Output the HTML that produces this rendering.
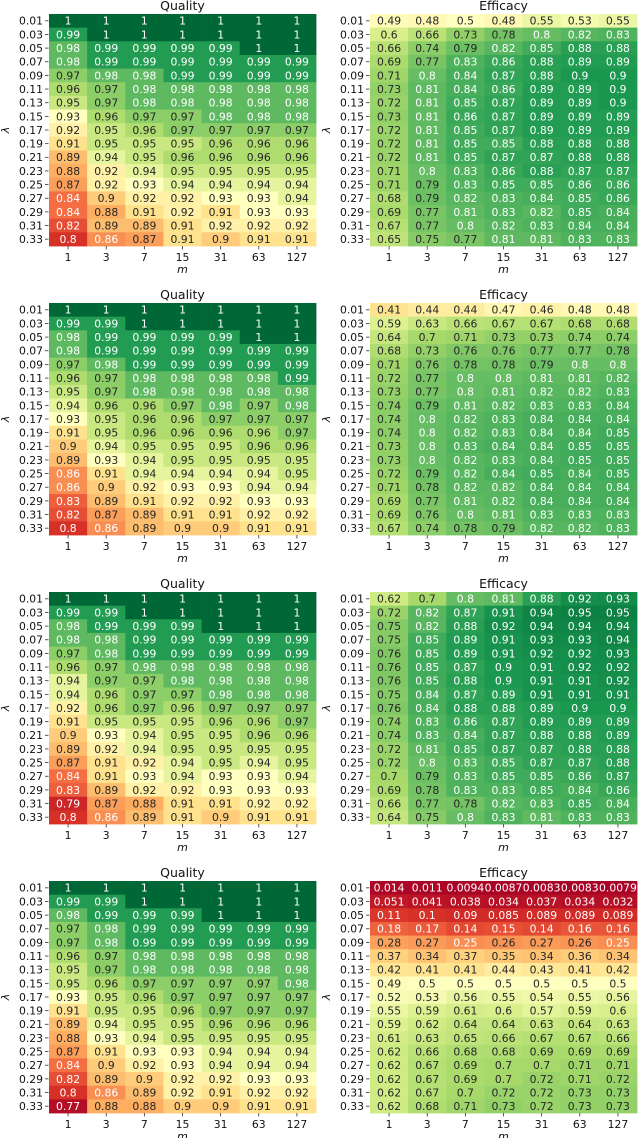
<!DOCTYPE html>
<html><head><meta charset="utf-8"><style>
html,body{margin:0;padding:0;background:#fff;}
svg{display:block;font-family:"DejaVu Sans","Liberation Sans",sans-serif;}
</style></head><body>
<svg id="fig" width="640" height="1138" viewBox="0 0 640 1138" xmlns="http://www.w3.org/2000/svg"></svg>
<script>
const mLabels=['1','3','7','15','31','63','127'];
const lambdaLabels=['0.01','0.03','0.05','0.07','0.09','0.11','0.13','0.15','0.17','0.19','0.21','0.23','0.25','0.27','0.29','0.31','0.33'];
const quality1=[[1,1,1,1,1,1,1],[0.99,1,1,1,1,1,1],[0.98,0.99,0.99,0.99,0.99,1,1],[0.98,0.99,0.99,0.99,0.99,0.99,0.99],[0.97,0.98,0.98,0.99,0.99,0.99,0.99],[0.96,0.97,0.98,0.98,0.98,0.98,0.98],[0.95,0.97,0.98,0.98,0.98,0.98,0.98],[0.93,0.96,0.97,0.97,0.98,0.98,0.98],[0.92,0.95,0.96,0.97,0.97,0.97,0.97],[0.91,0.95,0.95,0.95,0.96,0.96,0.96],[0.89,0.94,0.95,0.96,0.96,0.96,0.96],[0.88,0.92,0.94,0.95,0.95,0.95,0.95],[0.87,0.92,0.93,0.94,0.94,0.94,0.94],[0.84,0.9,0.92,0.92,0.93,0.93,0.94],[0.84,0.88,0.91,0.92,0.91,0.93,0.93],[0.82,0.89,0.89,0.91,0.92,0.92,0.92],[0.8,0.86,0.87,0.91,0.9,0.91,0.91]];
const efficacy1=[[0.49,0.48,0.5,0.48,0.55,0.53,0.55],[0.6,0.66,0.73,0.78,0.8,0.82,0.83],[0.66,0.74,0.79,0.82,0.85,0.88,0.88],[0.69,0.77,0.83,0.86,0.88,0.89,0.89],[0.71,0.8,0.84,0.87,0.88,0.9,0.9],[0.73,0.81,0.84,0.86,0.89,0.89,0.9],[0.72,0.81,0.85,0.87,0.89,0.89,0.9],[0.73,0.81,0.86,0.87,0.89,0.89,0.89],[0.72,0.81,0.85,0.87,0.89,0.89,0.89],[0.72,0.81,0.85,0.85,0.88,0.88,0.88],[0.72,0.81,0.85,0.87,0.87,0.88,0.88],[0.71,0.8,0.83,0.86,0.88,0.87,0.87],[0.71,0.79,0.83,0.85,0.85,0.86,0.86],[0.68,0.79,0.82,0.83,0.84,0.85,0.86],[0.69,0.77,0.81,0.83,0.82,0.85,0.84],[0.67,0.77,0.8,0.82,0.83,0.84,0.84],[0.65,0.75,0.77,0.81,0.81,0.83,0.83]];
const quality2=[[1,1,1,1,1,1,1],[0.99,0.99,1,1,1,1,1],[0.98,0.99,0.99,0.99,0.99,1,1],[0.98,0.99,0.99,0.99,0.99,0.99,0.99],[0.97,0.98,0.99,0.99,0.99,0.99,0.99],[0.96,0.97,0.98,0.98,0.98,0.98,0.99],[0.95,0.97,0.98,0.98,0.98,0.98,0.98],[0.94,0.96,0.96,0.97,0.98,0.97,0.98],[0.93,0.95,0.96,0.96,0.97,0.97,0.97],[0.91,0.95,0.96,0.96,0.96,0.96,0.97],[0.9,0.94,0.95,0.95,0.95,0.96,0.96],[0.89,0.93,0.94,0.95,0.95,0.95,0.95],[0.86,0.91,0.94,0.94,0.94,0.94,0.95],[0.86,0.9,0.92,0.93,0.93,0.94,0.94],[0.83,0.89,0.91,0.92,0.92,0.93,0.93],[0.82,0.87,0.89,0.91,0.91,0.92,0.92],[0.8,0.86,0.89,0.9,0.9,0.91,0.91]];
const efficacy2=[[0.41,0.44,0.44,0.47,0.46,0.48,0.48],[0.59,0.63,0.66,0.67,0.67,0.68,0.68],[0.64,0.7,0.71,0.73,0.73,0.74,0.74],[0.68,0.73,0.76,0.76,0.77,0.77,0.78],[0.71,0.76,0.78,0.78,0.79,0.8,0.8],[0.72,0.77,0.8,0.8,0.81,0.81,0.82],[0.73,0.77,0.8,0.81,0.82,0.82,0.83],[0.74,0.79,0.81,0.82,0.83,0.83,0.84],[0.74,0.8,0.82,0.83,0.84,0.84,0.84],[0.74,0.8,0.82,0.83,0.84,0.84,0.85],[0.73,0.8,0.83,0.84,0.84,0.85,0.85],[0.73,0.8,0.82,0.83,0.84,0.85,0.85],[0.72,0.79,0.82,0.84,0.85,0.84,0.85],[0.71,0.78,0.82,0.82,0.84,0.84,0.84],[0.69,0.77,0.81,0.82,0.84,0.84,0.84],[0.69,0.76,0.8,0.81,0.83,0.83,0.83],[0.67,0.74,0.78,0.79,0.82,0.82,0.83]];
const quality3=[[1,1,1,1,1,1,1],[0.99,0.99,1,1,1,1,1],[0.98,0.99,0.99,0.99,1,1,1],[0.98,0.98,0.99,0.99,0.99,0.99,0.99],[0.97,0.98,0.99,0.99,0.99,0.99,0.99],[0.96,0.97,0.98,0.98,0.98,0.98,0.98],[0.94,0.97,0.97,0.98,0.98,0.98,0.98],[0.94,0.96,0.97,0.97,0.98,0.98,0.98],[0.92,0.96,0.97,0.96,0.97,0.97,0.97],[0.91,0.95,0.95,0.95,0.96,0.96,0.97],[0.9,0.93,0.94,0.95,0.95,0.96,0.96],[0.89,0.92,0.94,0.95,0.95,0.95,0.95],[0.87,0.91,0.92,0.94,0.95,0.94,0.95],[0.84,0.91,0.93,0.94,0.93,0.93,0.94],[0.83,0.89,0.92,0.92,0.93,0.93,0.93],[0.79,0.87,0.88,0.91,0.91,0.92,0.92],[0.8,0.86,0.89,0.91,0.9,0.91,0.91]];
const efficacy3=[[0.62,0.7,0.8,0.81,0.88,0.92,0.93],[0.72,0.82,0.87,0.91,0.94,0.95,0.95],[0.75,0.82,0.88,0.92,0.94,0.94,0.94],[0.75,0.85,0.89,0.91,0.93,0.93,0.94],[0.76,0.85,0.89,0.91,0.92,0.92,0.93],[0.76,0.85,0.87,0.9,0.91,0.92,0.92],[0.76,0.85,0.88,0.9,0.91,0.91,0.92],[0.75,0.84,0.87,0.89,0.91,0.91,0.91],[0.76,0.84,0.88,0.88,0.89,0.9,0.9],[0.74,0.83,0.86,0.87,0.89,0.89,0.89],[0.74,0.83,0.84,0.87,0.88,0.88,0.89],[0.72,0.81,0.85,0.87,0.87,0.88,0.88],[0.72,0.8,0.83,0.85,0.87,0.87,0.88],[0.7,0.79,0.83,0.85,0.85,0.86,0.87],[0.69,0.78,0.83,0.83,0.85,0.84,0.86],[0.66,0.77,0.78,0.82,0.83,0.85,0.84],[0.64,0.75,0.8,0.83,0.81,0.83,0.83]];
const quality4=[[1,1,1,1,1,1,1],[0.99,0.99,1,1,1,1,1],[0.98,0.99,0.99,0.99,1,1,1],[0.97,0.98,0.99,0.99,0.99,0.99,0.99],[0.97,0.98,0.99,0.99,0.99,0.99,0.99],[0.96,0.97,0.98,0.98,0.98,0.98,0.98],[0.95,0.97,0.98,0.98,0.98,0.98,0.98],[0.95,0.96,0.97,0.97,0.97,0.97,0.98],[0.93,0.95,0.96,0.97,0.97,0.97,0.97],[0.91,0.95,0.95,0.96,0.97,0.97,0.97],[0.89,0.94,0.95,0.95,0.96,0.96,0.96],[0.88,0.93,0.94,0.95,0.95,0.95,0.95],[0.87,0.91,0.93,0.93,0.94,0.94,0.94],[0.84,0.9,0.92,0.93,0.94,0.94,0.94],[0.82,0.89,0.9,0.92,0.92,0.93,0.93],[0.8,0.86,0.89,0.92,0.91,0.92,0.92],[0.77,0.88,0.88,0.9,0.9,0.91,0.91]];
const efficacy4=[[0.014,0.011,0.0094,0.0087,0.0083,0.0083,0.0079],[0.051,0.041,0.038,0.034,0.037,0.034,0.032],[0.11,0.1,0.09,0.085,0.089,0.089,0.089],[0.18,0.17,0.14,0.15,0.14,0.16,0.16],[0.28,0.27,0.25,0.26,0.27,0.26,0.25],[0.37,0.34,0.37,0.35,0.34,0.36,0.34],[0.42,0.41,0.41,0.44,0.43,0.41,0.42],[0.49,0.5,0.5,0.5,0.5,0.5,0.5],[0.52,0.53,0.56,0.55,0.54,0.55,0.56],[0.55,0.59,0.61,0.6,0.57,0.59,0.6],[0.59,0.62,0.64,0.64,0.63,0.64,0.63],[0.61,0.63,0.65,0.66,0.67,0.67,0.66],[0.62,0.66,0.68,0.68,0.69,0.69,0.69],[0.62,0.67,0.69,0.7,0.7,0.71,0.71],[0.62,0.67,0.69,0.7,0.72,0.71,0.72],[0.62,0.67,0.7,0.72,0.72,0.73,0.73],[0.62,0.68,0.71,0.73,0.72,0.73,0.73]];

const NS='http://www.w3.org/2000/svg';
const svg=document.getElementById('fig');
const stops=['#a50026','#d73027','#f46d43','#fdae61','#fee08b','#ffffbf','#d9ef8b','#a6d96a','#66bd63','#1a9850','#006837'];
function hex(h){return [parseInt(h.substr(1,2),16),parseInt(h.substr(3,2),16),parseInt(h.substr(5,2),16)];}
function cmap(t){t=Math.max(0,Math.min(1,t));const p=t*10;const i=Math.min(9,Math.floor(p));const f=p-i;const a=hex(stops[i]),b=hex(stops[i+1]);return a.map((c,k)=>Math.round(c+(b[k]-c)*f));}
function lum(c){const l=c.map(v=>{v/=255;return v<=0.03928?v/12.92:Math.pow((v+0.055)/1.055,2.4);});return 0.2126*l[0]+0.7152*l[1]+0.0722*l[2];}
const qAnchors=[[0.75,0.0],[0.77,0.03],[0.8,0.1],[0.84,0.2],[0.88,0.3],[0.9,0.36],[0.93,0.5],[0.95,0.63],[0.97,0.74],[0.98,0.81],[0.99,0.89],[1,1]];
function qualNorm(v){for(let i=1;i<qAnchors.length;i++){const a=qAnchors[i-1],b=qAnchors[i];if(v<=b[0]){return a[1]+(b[1]-a[1])*(v-a[0])/(b[0]-a[0]);}}return 1;}
function effNorm(v){return v;}
function mk(tag,attrs,parent){const e=document.createElementNS(NS,tag);for(const k in attrs)e.setAttribute(k,attrs[k]);(parent||svg).appendChild(e);return e;}

function heatmap(data,title,x0,y0,norm,name){
  const W=267,H=232,cw=W/7,rh=H/17;
  const g=mk('g',{});
  
  
  const xScale=j=>x0+j*cw, yScale=i=>y0+i*rh;
  const t=mk('text',{x:x0+W/2,y:y0-4,'text-anchor':'middle','font-size':'12.5',fill:'#111'},g);
  t.textContent=title;
  
  
  data.forEach((row,i)=>row.forEach((v,j)=>{
    const c=cmap(norm(v));
    const r=mk('rect',{x:xScale(j),y:yScale(i),width:cw+0.4,height:rh+0.4,fill:'rgb('+c.join(',')+')'},g);
    
    
    const tx=mk('text',{x:xScale(j)+cw/2,y:yScale(i)+rh/2+3.9,'text-anchor':'middle','font-size':'10.8',fill:lum(c)<0.408?'#fff':'#262626'},g);
    tx.textContent=String(v);
    
    
  }));
  lambdaLabels.forEach((l,i)=>{
    const y=yScale(i)+rh/2;
    mk('line',{x1:x0-4,x2:x0-0.5,y1:y,y2:y,stroke:'#333','stroke-width':'0.8'},g);
    const tl=mk('text',{x:x0-6,y:y+3.9,'text-anchor':'end','font-size':'10.8',fill:'#111'},g);
    tl.textContent=l;
    
    
  });
  mLabels.forEach((l,j)=>{
    const x=xScale(j)+cw/2;
    mk('line',{x1:x,x2:x,y1:y0+H,y2:y0+H+3.5,stroke:'#333','stroke-width':'0.8'},g);
    const tl=mk('text',{x:x,y:y0+H+15,'text-anchor':'middle','font-size':'10.8',fill:'#111'},g);
    tl.textContent=l;
    
    
  });
  const xl=mk('text',{x:x0+W/2,y:y0+H+27,'text-anchor':'middle','font-size':'11','font-style':'italic',fill:'#111'},g);
  xl.textContent='m';
  
  
  const yl=mk('text',{x:0,y:0,'text-anchor':'middle','font-size':'11','font-style':'italic',fill:'#111',transform:'translate('+(x0-40)+','+(y0+H/2)+') rotate(-90)'},g);
  yl.textContent='λ';
  
  
}
const qs=[quality1,quality2,quality3,quality4], es=[efficacy1,efficacy2,efficacy3,efficacy4];
qs.forEach((q,k)=>{
  const y0=14+k*289;
  heatmap(q,'Quality',49,y0,qualNorm,'quality-heatmap-'+(k+1));
  heatmap(es[k],'Efficacy',370,y0,effNorm,'efficacy-heatmap-'+(k+1));
});
</script>
</body></html>
